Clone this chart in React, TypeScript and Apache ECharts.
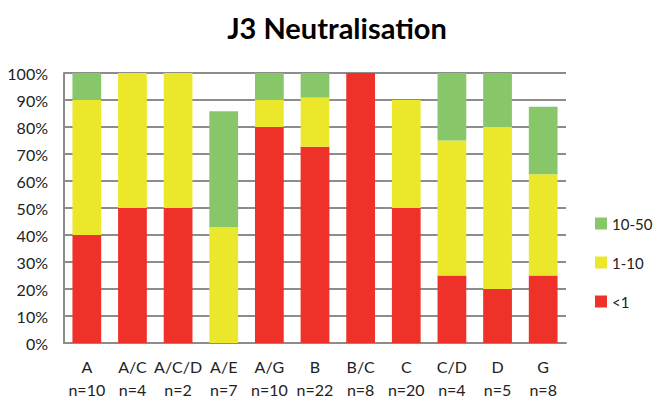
import React, { useEffect, useRef } from "react";
import * as echarts from "echarts";

const categories = ["A", "A/C", "A/C/D", "A/E", "A/G", "B", "B/C", "C", "C/D", "D", "G"];
const sampleSizes = [10, 4, 2, 7, 10, 22, 8, 20, 4, 5, 8];
const below1 = [40, 50, 50, 0, 80, 72.7, 100, 50, 25, 20, 25];
const from1to10 = [50, 50, 50, 42.9, 10, 18.2, 0, 40, 50, 60, 37.5];
const from10to50 = [10, 0, 0, 42.9, 10, 9.1, 0, 0, 25, 20, 25];
const yTicks = [0, 10, 20, 30, 40, 50, 60, 70, 80, 90, 100];

export default function App() {
  const ref = useRef<HTMLDivElement>(null);
  useEffect(() => {
    if (!ref.current) return;
    const chart = echarts.init(ref.current, undefined, { renderer: "svg" });
    const labels = categories.map((c, i) => `${c}\nn=${sampleSizes[i]}`);
    const font = "Lato, 'Open Sans', sans-serif";
    chart.setOption({
      animation: false,
      backgroundColor: "#ffffff",
      title: {
        text: "J3 Neutralisation",
        left: 332,
        textAlign: "center",
        top: 8,
        textStyle: { fontFamily: font, fontWeight: "bold", fontSize: 29, color: "#000" },
      },
      grid: { left: 64, right: 88, top: 73, bottom: 60 },
      legend: {
        orient: "vertical",
        left: 590,
        top: 211,
        itemWidth: 12,
        itemHeight: 12,
        itemGap: 24,
        icon: "rect",
        data: ["10-50", "1-10", "<1"],
        textStyle: { fontFamily: font, fontSize: 15, color: "#222" },
      },
      xAxis: {
        type: "category",
        data: labels,
        axisLine: { lineStyle: { color: "#8c8c8c", width: 2 } },
        axisTick: { show: false },
        axisLabel: {
          fontFamily: font,
          fontSize: 16,
          color: "#222",
          lineHeight: 23,
          margin: 12,
          interval: 0,
        },
      },
      yAxis: {
        type: "value",
        min: yTicks[0],
        max: yTicks[yTicks.length - 1],
        interval: 10,
        axisLine: { show: true, lineStyle: { color: "#8c8c8c", width: 2 } },
        axisTick: { show: false },
        splitLine: { lineStyle: { color: "#8c8c8c", width: 2 } },
        axisLabel: {
          fontFamily: font,
          fontSize: 16,
          color: "#222",
          margin: 16,
          formatter: (v: number) => `${v}%`,
        },
      },
      series: [
        {
          name: "<1",
          type: "bar",
          stack: "total",
          barWidth: "63%",
          data: below1,
          itemStyle: { color: "#ee3129" },
        },
        {
          name: "1-10",
          type: "bar",
          stack: "total",
          data: from1to10,
          itemStyle: { color: "#ebe82b" },
        },
        {
          name: "10-50",
          type: "bar",
          stack: "total",
          data: from10to50,
          itemStyle: { color: "#87c76a" },
        },
      ],
    });
    return () => chart.dispose();
  }, []);
  return <div ref={ref} style={{ width: 654, height: 403, position: "absolute", left: 0, top: 0 }} />;
}
